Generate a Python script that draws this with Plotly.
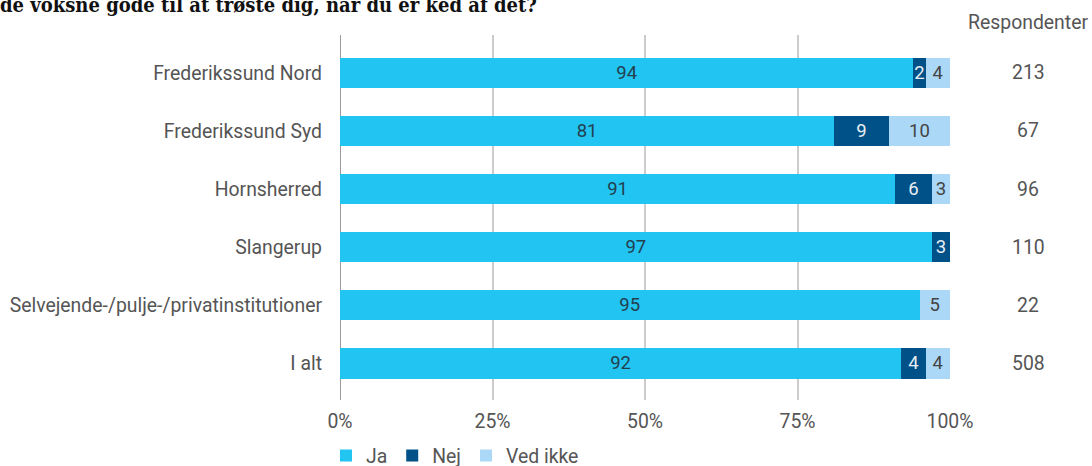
import plotly.graph_objects as go

# Data
categories = [
	'Frederikssund Nord',
	'Frederikssund Syd',
	'Hornsherred',
	'Slangerup',
	'Selvejende-/pulje-/privatinstitutioner',
	'I alt',
]
ja = [94, 81, 91, 97, 95, 92]
nej = [2, 9, 6, 3, 0, 4]
ved_ikke = [4, 10, 3, 0, 5, 4]
respondenter = [213, 67, 96, 110, 22, 508]
tick_values = [0, 25, 50, 75, 100]
tick_labels = ['0%', '25%', '50%', '75%', '100%']

title = 'de voksne gode til at trøste dig, når du er ked af det?'

FONT = 'Roboto'
SIZE = 19.4
GREY = '#555555'

def labels(values):
	return [str(v) if v > 0 else '' for v in values]

fig = go.Figure()
series = [
	('Ja', ja, '#22c4f2', '#23404f'),
	('Nej', nej, '#005187', '#e8eef3'),
	('Ved ikke', ved_ikke, '#abd8f6', '#444444'),
]
for name, values, color, text_color in series:
	fig.add_trace(go.Bar(
		y=categories,
		x=values,
		name=name,
		orientation='h',
		marker=dict(color=color, line=dict(width=0)),
		text=labels(values),
		textposition='inside',
		insidetextanchor='middle',
		textangle=0,
		constraintext='none',
		textfont=dict(family=FONT, size=18.5, color=text_color),
		cliponaxis=False,
		hoverinfo='x+y+name',
	))

# Respondents column on the right
for cat, n in zip(categories, respondenter):
	fig.add_annotation(
		x=1.128, xref='paper', y=cat, yref='y',
		text=str(n), showarrow=False, xanchor='center',
		font=dict(family=FONT, size=SIZE, color=GREY),
	)
fig.add_annotation(
	x=1.2295, xref='paper', y=1, yref='paper', yanchor='middle',
	yshift=13, text='Respondenter', showarrow=False, xanchor='right',
	font=dict(family=FONT, size=SIZE, color=GREY),
)

fig.update_layout(
	width=1092,
	height=466,
	barmode='stack',
	bargap=0.48,
	paper_bgcolor='white',
	plot_bgcolor='white',
	margin=dict(l=340, r=142, t=35, b=66, autoexpand=False),
	font=dict(family=FONT, size=SIZE, color=GREY),
	legend=dict(
		orientation='h', x=-0.023, xanchor='left', y=-0.1, yanchor='top',
		font=dict(family=FONT, size=SIZE, color=GREY),
		itemwidth=30, tracegroupgap=0, traceorder='normal',
	),
	title=dict(
		text='<b>' + title + '</b>',
		x=0, xref='container', xanchor='left',
		y=0.99, yref='container', yanchor='middle',
		font=dict(family='DejaVu Serif Condensed, DejaVu Serif', size=20, color='#111111'),
		pad=dict(l=0, t=0),
	),
)

fig.update_xaxes(
	range=[0, 100],
	tickvals=tick_values,
	ticktext=tick_labels,
	showgrid=True,
	gridcolor='#cccccc',
	gridwidth=2,
	zeroline=False,
	showline=False,
	ticks='',
	ticklabelstandoff=8,
	tickfont=dict(family=FONT, size=SIZE, color=GREY),
)
fig.update_yaxes(
	range=[5.63, -0.65],
	showgrid=False,
	zeroline=False,
	ticks='',
	ticklabelstandoff=17,
	tickfont=dict(family=FONT, size=SIZE, color=GREY),
)
# darker left axis line at 0%
fig.add_shape(type='line', xref='x', yref='paper', x0=0, x1=0, y0=0, y1=1,
	line=dict(color='#999999', width=2), layer='below')

# page has a default 8px body margin; drop it so the figure sits at the corner
fig.write_html(
	'out.html',
	config={'displayModeBar': False},
	post_script="document.body.style.margin='0px';",
)
